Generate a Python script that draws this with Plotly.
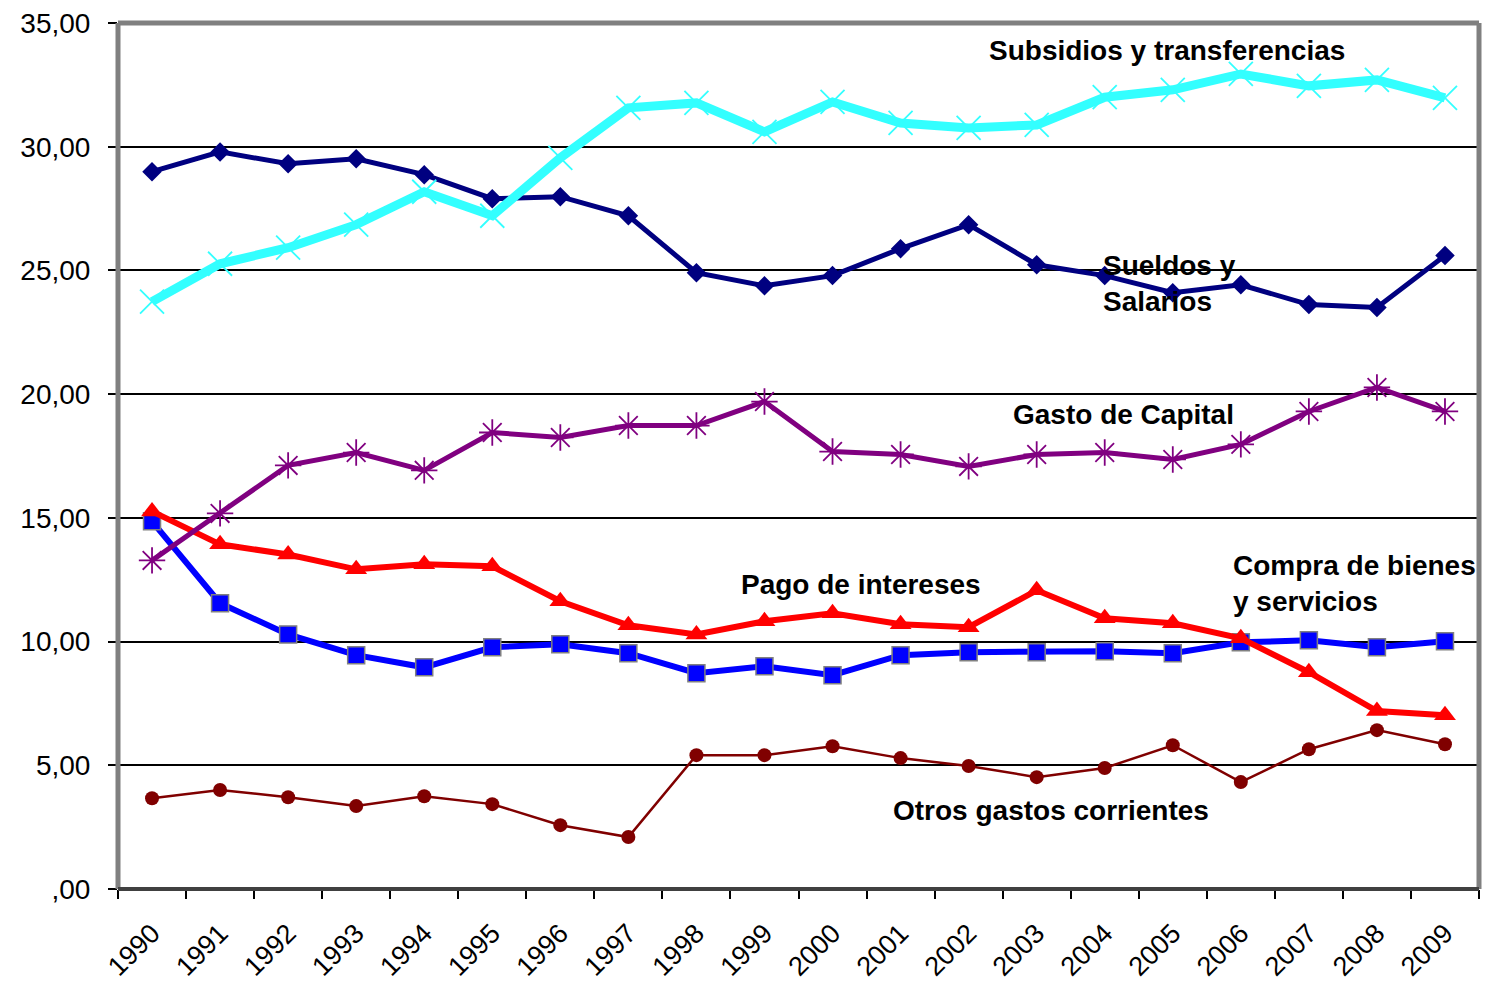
import plotly.graph_objects as go

years = [str(y) for y in range(1990, 2010)]

subsidios = [23.74, 25.27, 25.92, 26.85, 28.18, 27.21, 29.55, 31.57, 31.77, 30.60,
             31.81, 30.96, 30.76, 30.88, 32.00, 32.30, 32.94, 32.46, 32.70, 31.97]
sueldos = [28.99, 29.79, 29.31, 29.51, 28.87, 27.90, 27.98, 27.21, 24.91, 24.38,
           24.79, 25.88, 26.85, 25.23, 24.79, 24.10, 24.42, 23.62, 23.50, 25.60]
capital = [13.28, 15.18, 17.12, 17.64, 16.92, 18.45, 18.25, 18.73, 18.73, 19.70,
           17.68, 17.56, 17.08, 17.56, 17.64, 17.36, 17.97, 19.30, 20.27, 19.30]
intereses = [15.26, 13.93, 13.52, 12.92, 13.12, 13.04, 11.63, 10.66, 10.29, 10.82,
             11.14, 10.70, 10.58, 12.07, 10.94, 10.74, 10.13, 8.76, 7.19, 7.02]
compra = [14.86, 11.55, 10.29, 9.45, 8.96, 9.77, 9.89, 9.53, 8.72, 9.00,
          8.64, 9.45, 9.57, 9.57, 9.61, 9.53, 9.97, 10.05, 9.77, 10.01]
otros = [3.67, 4.00, 3.71, 3.35, 3.75, 3.43, 2.58, 2.10, 5.41, 5.41,
         5.77, 5.29, 4.97, 4.52, 4.89, 5.81, 4.32, 5.65, 6.42, 5.85]

y_ticks = [0, 5, 10, 15, 20, 25, 30, 35]
y_tick_text = [",00", "5,00", "10,00", "15,00", "20,00", "25,00", "30,00", "35,00"]

W, H = 1494, 989
L, R, T, B = 118, 1479, 23, 889  # plot area in page pixels

fig = go.Figure()

fig.add_trace(go.Scatter(x=years, y=otros, mode="lines+markers", name="Otros gastos corrientes",
                         line=dict(color="#800000", width=2.5),
                         marker=dict(symbol="circle", size=14, color="#800000")))
fig.add_trace(go.Scatter(x=years, y=sueldos, mode="lines+markers", name="Sueldos y Salarios",
                         line=dict(color="#000080", width=5),
                         marker=dict(symbol="diamond", size=15, color="#000080")))
fig.add_trace(go.Scatter(x=years, y=compra, mode="lines+markers", name="Compra de bienes y servicios",
                         line=dict(color="#0000FF", width=6),
                         marker=dict(symbol="square", size=17, color="#0000FF",
                                     line=dict(color="#808080", width=1.5))))
fig.add_trace(go.Scatter(x=years, y=intereses, mode="lines+markers", name="Pago de intereses",
                         line=dict(color="#FF0000", width=6),
                         marker=dict(symbol="triangle-up", size=19, color="#FF0000")))
fig.add_trace(go.Scatter(x=years, y=capital, mode="lines+markers", name="Gasto de Capital",
                         line=dict(color="#800080", width=5),
                         marker=dict(symbol="asterisk-open", size=22,
                                     line=dict(color="#800080", width=1.8))))
fig.add_trace(go.Scatter(x=years, y=subsidios, mode="lines+markers", name="Subsidios y transferencias",
                         line=dict(color="#33FFFF", width=9),
                         marker=dict(symbol="x-thin-open", size=24,
                                     line=dict(color="#33EEFF", width=1.8))))


def px(xp):
    return (xp - L) / (R - L)


def py(yp):
    return (B - yp) / (B - T)


labels = [
    ("<b>Subsidios y transferencias</b>", 1167, 51, "center"),
    ("<b>Sueldos y<br>Salarios</b>", 1101, 283, "left"),
    ("<b>Gasto de Capital</b>", 1123, 415, "center"),
    ("<b>Pago de intereses</b>", 861, 584, "center"),
    ("<b>Compra de bienes<br>y servicios</b>", 1231, 583, "left"),
    ("<b>Otros gastos corrientes</b>", 1051, 810, "center"),
]
for txt, x0, y0, anchor in labels:
    fig.add_annotation(text=txt, x=px(x0), y=py(y0), xref="paper", yref="paper",
                       xanchor=anchor, yanchor="middle", align="left", showarrow=False,
                       font=dict(family="Liberation Sans, Arial", size=28, color="black"))

# grey frame
fig.add_shape(type="line", xref="paper", yref="paper", x0=0, x1=1, y0=1, y1=1,
              line=dict(color="#808080", width=5))
fig.add_shape(type="line", xref="paper", yref="paper", x0=0, x1=0, y0=0, y1=1,
              line=dict(color="#808080", width=5))
fig.add_shape(type="line", xref="paper", yref="paper", x0=1, x1=1, y0=0, y1=1,
              line=dict(color="#808080", width=5))
fig.add_shape(type="line", xref="paper", yref="paper", x0=0, x1=1, y0=0, y1=0,
              line=dict(color="#404040", width=4))

fig.update_layout(
    width=W, height=H,
    margin=dict(l=L, r=W - R, t=T, b=H - B, autoexpand=False),
    plot_bgcolor="white", paper_bgcolor="white",
    showlegend=False,
    font=dict(family="Liberation Sans, Arial", color="black"),
    xaxis=dict(type="category", range=[-0.5, 19.5], tickson="boundaries",
               ticks="outside", ticklen=9, tickwidth=2, tickcolor="black",
               tickangle=-45, tickfont=dict(size=27), showgrid=False, zeroline=False,
               showline=False, automargin=False, ticklabelstandoff=22),
    yaxis=dict(range=[0, 35], tickvals=y_ticks, ticktext=y_tick_text,
               ticks="outside", ticklen=9, tickwidth=2, tickcolor="black",
               tickfont=dict(size=28), showgrid=True, gridcolor="black", gridwidth=1.5,
               zeroline=False, showline=False, automargin=False, ticklabelstandoff=12),
)

fig.write_html("out.html", config={"displayModeBar": False},
               post_script="document.body.style.margin='0';document.body.style.overflow='hidden';")
